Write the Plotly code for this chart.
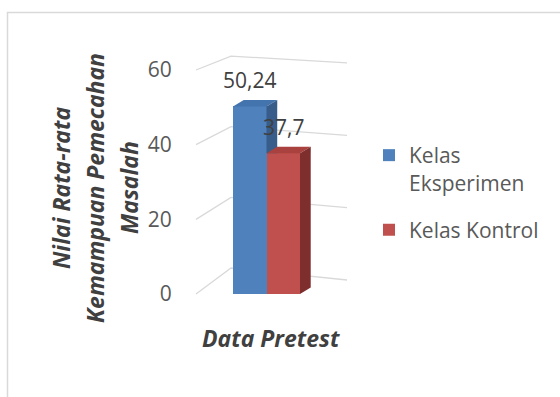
import plotly.graph_objects as go

# ---------------- data ----------------
series_names = ["Kelas<br>Eksperimen", "Kelas Kontrol"]
values = [50.24, 37.7]
category = "Data Pretest"
y_ticks = [0, 20, 40, 60]
y_title_lines = ["Nilai Rata-rata", "Kemampuan Pemecahan", "Masalah"]

# ---------------- styling ----------------
front_colors = ["#4F81BD", "#C0504D"]
top_colors = ["#4374AE", "#A9423F"]
side_colors = ["#385D8A", "#7E2F2D"]
text_color = "#404040"
grid_color = "#D9D9D9"
FONT = "Open Sans"

W, H = 560, 397
L, R, T, B = 183, 357, 40, 310          # plot-area pixel box
XPX, X0PX = 33.5, 249.75               # px per category unit, px of first bar centre
YPX, Y0PX = 3.733, 294                 # px per value unit, px of value 0

x_range = [(L - X0PX) / XPX, (R - X0PX) / XPX]
y_range = [(Y0PX - B) / YPX, (Y0PX - T) / YPX]

def px_x(p):
    return (p - L) / (R - L)

def px_y(p):
    return (B - p) / (B - T)

# depth of the 3-D extrusion (in axis units)
DX, DY = 0.32, 1.75

fig = go.Figure()

# front faces
for i, (name, v) in enumerate(zip(series_names, values)):
    fig.add_trace(go.Bar(
        x=[i], y=[v], width=1, name=name, legendgroup=f"g{i}",
        marker=dict(color=front_colors[i], line=dict(width=0)),
        hoverinfo="skip",
    ))

# top and side faces
for i, v in enumerate(values):
    xl, xr = i - 0.5, i + 0.5
    fig.add_trace(go.Scatter(
        x=[xl, xr, xr + DX, xl + DX, xl], y=[v, v, v + DY, v + DY, v],
        fill="toself", fillcolor=top_colors[i], mode="lines",
        line=dict(width=0, color=top_colors[i]), showlegend=False, hoverinfo="skip"))
    low = values[i + 1] if i + 1 < len(values) else 0
    low_back = low if i + 1 < len(values) else DY
    fig.add_trace(go.Scatter(
        x=[xr, xr, xr + DX, xr + DX, xr], y=[low, v, v + DY, low_back, low],
        fill="toself", fillcolor=side_colors[i], mode="lines",
        line=dict(width=0, color=side_colors[i]), showlegend=False, hoverinfo="skip"))

# perspective gridlines (side wall + back wall)
xg_left = (196 - X0PX) / XPX
xg_corner = (231 - X0PX) / XPX
xg_right = (347 - X0PX) / XPX
shapes = []
for v in y_ticks:
    yc = 6.96 + 0.9464 * v
    yr = 3.75 + 0.969 * v
    shapes.append(dict(
        type="path", xref="x", yref="y", layer="below",
        path=f"M {xg_left},{v} L {xg_corner},{yc} L {xg_right},{yr}",
        line=dict(color=grid_color, width=1.3)))

# chart border
shapes.append(dict(type="rect", xref="paper", yref="paper",
                   x0=px_x(7.5), x1=px_x(620), y0=px_y(12.5), y1=px_y(460),
                   line=dict(color=grid_color, width=1.5), layer="below"))

annotations = []
for i, v in enumerate(values):
    annotations.append(dict(
        x=i, y=v, xref="x", yref="y", text=f"{v:g}".replace(".", ","),
        showarrow=False, yshift=26, xanchor="center", yanchor="middle",
        font=dict(family=FONT, size=21, color=text_color)))

for k, (line, xp) in enumerate(zip(y_title_lines, [61, 95, 129])):
    annotations.append(dict(
        x=px_x(xp), y=px_y(188), xref="paper", yref="paper",
        text=f"<b><i>{line}</i></b>", textangle=-90, showarrow=False,
        xanchor="center", yanchor="middle",
        font=dict(family=FONT, size=23, color=text_color)))

annotations.append(dict(
    x=px_x(271), y=px_y(338), xref="paper", yref="paper",
    text=f"<b><i>{category}</i></b>", showarrow=False,
    xanchor="center", yanchor="middle",
    font=dict(family=FONT, size=23, color=text_color)))

fig.update_layout(
    width=W, height=H,
    margin=dict(l=L, r=W - R, t=T, b=H - B, pad=0),
    paper_bgcolor="white", plot_bgcolor="rgba(0,0,0,0)",
    barmode="overlay", bargap=0,
    font=dict(family=FONT, color=text_color),
    xaxis=dict(range=x_range, visible=False, fixedrange=True),
    yaxis=dict(range=y_range, tickvals=y_ticks, showgrid=False, zeroline=False,
               showline=False, ticks="outside", ticklen=6, tickcolor="rgba(0,0,0,0)",
               tickfont=dict(family=FONT, size=21, color="#595959"), fixedrange=True),
    legend=dict(x=px_x(369), y=px_y(135), xanchor="left", yanchor="top",
                font=dict(family=FONT, size=21, color="#595959"),
                valign="top", tracegroupgap=17, bgcolor="rgba(0,0,0,0)",
                traceorder="grouped"),
    shapes=shapes, annotations=annotations,
    showlegend=True,
)

fig.write_html("out.html")
